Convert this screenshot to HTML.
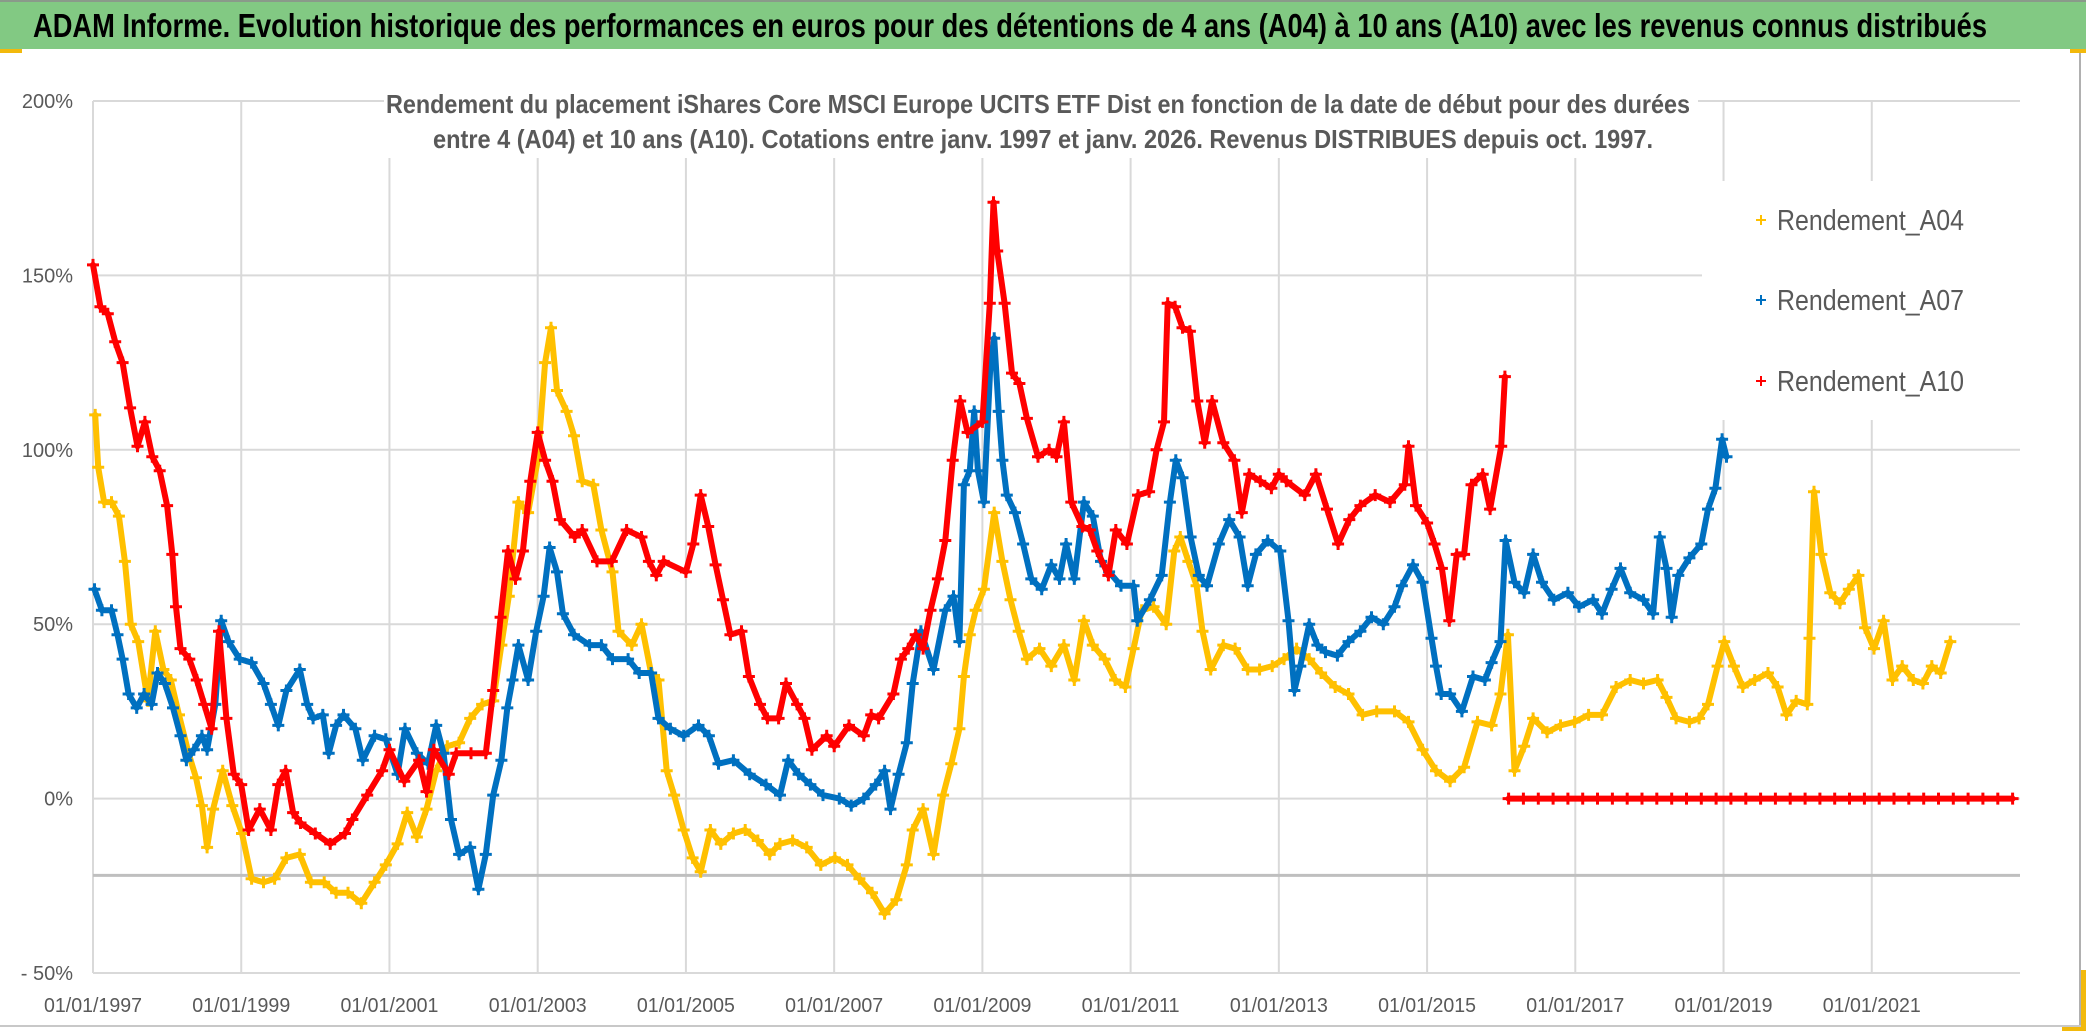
<!DOCTYPE html>
<html><head><meta charset="utf-8"><style>
html,body{margin:0;padding:0;background:#fff}
svg{display:block}
text{font-family:"Liberation Sans",sans-serif}
</style></head><body>
<svg id="chart" width="2086" height="1031" viewBox="0 0 2086 1031" xmlns="http://www.w3.org/2000/svg">
<rect x="0" y="0" width="2086" height="1031" fill="#fff"/>
<rect x="0" y="0" width="2086" height="49" fill="#82c983"/>
<rect x="0" y="0" width="2086" height="2" fill="#8a9a8a"/>
<rect x="0" y="49" width="22" height="4" fill="#f2b90c"/>
<rect x="2070" y="49" width="16" height="4" fill="#f2b90c"/>
<text x="33" y="37" font-size="33" font-weight="bold" fill="#000" textLength="1954" lengthAdjust="spacingAndGlyphs">ADAM Informe. Evolution historique des performances en euros pour des détentions de 4 ans (A04) à 10 ans (A10) avec les revenus connus distribués</text>
<rect x="2079" y="53" width="2" height="975" fill="#b0b0b0"/>
<rect x="2081" y="970" width="5" height="61" fill="#f2b90c"/>
<rect x="0" y="1025" width="2081" height="2" fill="#c8c8c8"/>
<rect x="2062" y="1027" width="24" height="4" fill="#f2b90c"/>
<g id="grid"></g>
<g id="series"></g>
<rect x="384" y="78" width="1314" height="80" fill="#fff"/>
<text x="386" y="113" font-size="26" font-weight="bold" fill="#595959" textLength="1304" lengthAdjust="spacingAndGlyphs">Rendement du placement iShares Core MSCI Europe UCITS ETF Dist en fonction de la date de début pour des durées</text>
<text x="433" y="148" font-size="26" font-weight="bold" fill="#595959" textLength="1220" lengthAdjust="spacingAndGlyphs">entre 4 (A04) et 10 ans (A10). Cotations entre janv. 1997 et janv. 2026. Revenus DISTRIBUES depuis oct. 1997.</text>
<g>
<rect x="1702" y="181" width="318" height="239" fill="#fff"/>
<g>
<path d="M1756 220h10M1761 215v10" stroke="#ffc000" stroke-width="2"/>
<text x="1777" y="230" font-size="29" fill="#595959" textLength="187" lengthAdjust="spacingAndGlyphs">Rendement_A04</text></g>
<g>
<path d="M1756 300h10M1761 295v10" stroke="#0070c0" stroke-width="2"/>
<text x="1777" y="310" font-size="29" fill="#595959" textLength="187" lengthAdjust="spacingAndGlyphs">Rendement_A07</text></g>
<g>
<path d="M1756 381h10M1761 376v10" stroke="#ff0000" stroke-width="2"/>
<text x="1777" y="391" font-size="29" fill="#595959" textLength="187" lengthAdjust="spacingAndGlyphs">Rendement_A10</text></g>
</g>
<g id="axes"></g>
</svg>
<script>
const yTicks=[200,150,100,50,0,-50];
const yTickLabels=["200%","150%","100%","50%","0%","- 50%"];
const xTickYears=[1997,1999,2001,2003,2005,2007,2009,2011,2013,2015,2017,2019,2021];
const xTickLabels=["01/01/1997","01/01/1999","01/01/2001","01/01/2003","01/01/2005","01/01/2007","01/01/2009","01/01/2011","01/01/2013","01/01/2015","01/01/2017","01/01/2019","01/01/2021"];
const crossValue=-22;

const a04Dates=[1997.03,1997.07,1997.15,1997.25,1997.35,1997.43,1997.51,1997.61,1997.74,1997.84,1997.95,1998.05,1998.16,1998.29,1998.39,1998.47,1998.54,1998.62,1998.75,1998.88,1999.01,1999.14,1999.30,1999.45,1999.61,1999.79,1999.94,2000.12,2000.28,2000.44,2000.62,2000.80,2000.95,2001.11,2001.24,2001.37,2001.50,2001.63,2001.78,2001.94,2002.09,2002.25,2002.40,2002.51,2002.61,2002.74,2002.87,2003.00,2003.10,2003.18,2003.26,2003.39,2003.49,2003.60,2003.75,2003.86,2004.01,2004.09,2004.27,2004.40,2004.53,2004.63,2004.74,2004.84,2004.97,
2005.09,2005.20,2005.33,2005.47,2005.64,2005.80,2005.97,2006.13,2006.27,2006.44,2006.63,2006.82,2007.01,2007.18,2007.34,2007.51,2007.68,2007.84,2007.98,2008.06,2008.20,2008.34,2008.47,2008.58,2008.69,2008.75,2008.83,2008.91,2009.02,2009.16,2009.27,2009.38,2009.49,2009.60,2009.77,2009.93,2010.10,2010.24,2010.37,2010.49,2010.65,2010.79,2010.93,2011.04,2011.15,2011.31,2011.48,2011.59,2011.67,2011.78,2011.89,2011.97,2012.08,2012.25,2012.41,2012.58,2012.74,2012.91,2013.07,2013.24,2013.41,
2013.57,2013.76,2013.94,2014.13,2014.32,2014.56,2014.75,2014.94,2015.12,2015.31,2015.50,2015.68,2015.87,2015.99,2016.09,2016.18,2016.31,2016.43,2016.62,2016.80,2016.99,2017.18,2017.36,2017.55,2017.74,2017.92,2018.11,2018.23,2018.36,2018.54,2018.67,2018.79,2018.92,2019.01,2019.14,2019.26,2019.42,2019.60,2019.73,2019.85,2019.98,2020.13,
2020.16,2020.22,2020.32,2020.44,2020.57,2020.69,2020.82,2020.91,2021.03,2021.16,2021.28,2021.41,2021.56,2021.69,2021.81,2021.93,2022.06];
const a04Values=[110,95,85,85,81,68,50,45,28,48,37,34,24,13,6,-2,-14,-3,8,-2,-10,-23,-24,-23,-17,-16,-24,-24,-27,-27,-30,-24,-19,-13,-4,-11,-3,8,15,16,23,27,28,44,58,85,82,97,125,135,117,111,104,91,90,77,65,48,44,50,36,34,8,1,-9,
-17,-21,-9,-13,-10,-9,-12,-16,-13,-12,-14,-19,-17,-19,-23,-27,-33,-29,-19,-9,-3,-16,1,10,20,35,47,54,60,82,68,57,48,40,43,38,44,34,51,44,40,34,32,43,54,55,50,71,75,68,61,48,37,44,43,37,37,38,40,43,40,
36,32,30,24,25,25,22,14,8,5,9,22,21,30,47,8,15,23,19,21,22,24,24,32,34,33,34,29,23,22,23,27,38,45,38,32,34,36,32,24,28,27,
46,88,70,59,56,60,64,49,43,51,34,38,34,33,38,36,45];

const a07Dates=[1997.02,1997.12,1997.25,1997.33,1997.40,1997.48,1997.59,1997.69,1997.79,1997.87,1997.97,1998.08,1998.18,1998.26,1998.36,1998.47,1998.54,1998.65,1998.73,1998.83,1998.98,1999.14,1999.30,1999.40,1999.50,1999.61,1999.79,1999.89,1999.97,2000.10,2000.18,2000.28,2000.38,2000.54,2000.64,2000.80,2000.95,2001.11,2001.21,2001.37,2001.52,2001.63,2001.73,2001.83,2001.94,2002.09,2002.20,2002.30,2002.40,2002.51,2002.59,2002.66,2002.74,2002.87,2002.98,2003.08,2003.16,2003.26,2003.34,2003.49,2003.70,2003.86,2004.01,2004.22,2004.37,2004.53,2004.63,2004.79,2004.97,
2005.17,2005.31,2005.44,2005.64,2005.86,2006.08,2006.27,2006.38,2006.52,2006.68,2006.85,2007.07,2007.23,2007.40,2007.56,2007.68,2007.76,2007.87,2007.98,2008.06,2008.17,2008.34,2008.50,2008.61,2008.69,2008.75,2008.83,2008.89,2008.94,2009.02,2009.11,2009.16,2009.22,2009.27,2009.33,2009.44,2009.55,2009.66,2009.80,2009.93,2010.04,2010.13,2010.24,2010.37,2010.49,2010.60,2010.71,2010.87,2011.04,2011.09,2011.26,2011.42,2011.53,2011.61,2011.70,2011.81,2011.92,2012.03,2012.19,2012.33,2012.47,2012.58,2012.69,2012.85,2013.02,2013.13,2013.21,2013.29,2013.41,2013.52,
2013.63,2013.79,2013.94,2014.10,2014.25,2014.41,2014.56,2014.66,2014.81,2014.94,2015.06,2015.12,2015.19,2015.31,2015.47,2015.62,2015.78,2015.87,2015.99,2016.06,2016.18,2016.31,2016.43,2016.55,2016.71,2016.90,2017.05,2017.24,2017.36,2017.49,2017.61,2017.74,2017.92,2018.05,2018.14,2018.23,2018.30,2018.39,2018.54,2018.70,2018.79,2018.89,2018.98,2019.04];
const a07Values=[60,54,54,47,40,30,26,30,27,36,33,26,18,11,14,18,14,27,51,45,40,39,33,27,21,31,37,27,23,24,13,21,24,20,11,18,17,7,20,13,10,21,13,-6,-16,-14,-26,-16,1,11,26,34,44,34,48,58,72,65,53,47,44,44,40,40,36,36,23,20,18,
21,18,10,11,7,4,1,11,7,4,1,0,-2,0,4,8,-3,7,16,33,48,37,54,58,45,90,94,111,94,85,125,132,111,97,87,82,73,63,60,67,63,73,63,85,81,68,65,61,61,51,57,64,85,97,92,75,64,61,73,80,75,61,70,74,71,51,31,38,50,44,
42,41,45,48,52,50,55,61,67,62,46,38,30,30,25,35,34,39,45,74,62,59,70,62,57,59,55,57,53,60,66,59,57,53,75,66,52,64,69,73,83,89,103,98];

const a10Dates=[1997.00,1997.10,1997.20,1997.30,1997.40,1997.50,1997.60,1997.70,1997.80,1997.90,1998.00,1998.07,1998.12,1998.18,1998.30,1998.40,1998.50,1998.60,1998.70,1998.80,1998.90,1999.00,1999.10,1999.25,1999.40,1999.50,1999.60,1999.70,1999.80,2000.00,2000.20,2000.40,2000.50,2000.70,2000.90,2001.00,2001.20,2001.40,2001.50,2001.60,2001.80,2001.90,2002.10,2002.30,2002.40,2002.50,2002.60,2002.70,2002.80,2002.90,2003.00,2003.10,2003.20,2003.30,2003.50,2003.60,2003.80,2004.00,2004.20,2004.40,2004.50,2004.60,2004.70,
2005.00,2005.10,2005.20,2005.30,2005.40,2005.50,2005.60,2005.75,2005.85,2006.00,2006.10,2006.25,2006.35,2006.50,2006.60,2006.70,2006.90,2007.00,2007.20,2007.40,2007.50,2007.60,2007.80,2007.90,2008.00,2008.10,2008.20,2008.30,2008.40,2008.50,2008.60,2008.70,2008.80,2009.00,2009.10,2009.15,2009.20,2009.30,2009.40,2009.50,2009.60,2009.75,2009.90,2010.00,2010.10,2010.20,2010.35,2010.45,2010.55,2010.70,2010.80,2010.95,2011.10,2011.25,2011.35,2011.45,2011.50,2011.60,2011.70,2011.80,2011.90,2012.00,2012.10,2012.25,2012.40,2012.50,2012.60,2012.75,2012.90,2013.00,2013.10,
2013.35,2013.50,2013.65,2013.80,2013.95,2014.10,2014.30,2014.50,2014.70,2014.75,2014.85,2015.00,2015.10,2015.20,2015.30,2015.40,2015.50,2015.60,2015.75,2015.85,2016.00,2016.05,
2016.10,2016.30,2016.50,2016.70,2016.90,2017.10,2017.30,2017.50,2017.70,2017.90,2018.10,2018.30,2018.50,2018.70,2018.90,2019.10,2019.30,2019.50,2019.70,2019.90,2020.10,2020.30,2020.50,2020.70,2020.90,2021.10,2021.30,2021.50,2021.70,2021.90,2022.10,2022.30,2022.50,2022.70,2022.90];
const a10Values=[153,141,139,131,125,112,101,108,98,94,84,70,55,43,40,34,27,20,48,23,7,4,-9,-3,-9,4,8,-4,-7,-10,-13,-10,-6,1,8,14,5,11,2,14,7,13,13,13,31,52,71,63,71,91,105,97,91,80,75,77,68,68,77,75,68,64,68,
65,73,87,78,67,57,47,48,35,27,23,23,33,27,23,14,18,15,21,18,24,23,30,40,43,47,43,54,63,74,97,114,105,108,142,171,157,142,122,119,109,98,100,98,108,85,78,77,71,64,77,73,87,88,100,108,142,141,135,134,114,102,114,102,97,82,93,91,89,93,91,
87,93,83,73,80,84,87,85,90,101,84,79,73,66,51,70,70,90,93,83,101,121,
0,0,0,0,0,0,0,0,0,0,0,0,0,0,0,0,0,0,0,0,0,0,0,0,0,0,0,0,0,0,0,0,0,0,0];

const plotLeft=93, plotRight=2020, yearStart=1997, yearEnd=2023;
const yTop=101, yBottom=973, vTop=200, vBottom=-50;
function xScale(yr){return plotLeft+(yr-yearStart)/(yearEnd-yearStart)*(plotRight-plotLeft);}
function yScale(v){return yTop+(vTop-v)/(vTop-vBottom)*(yBottom-yTop);}
const NS="http://www.w3.org/2000/svg";
function mk(tag,attrs,parent){const e=document.createElementNS(NS,tag);for(const k in attrs)e.setAttribute(k,attrs[k]);parent.appendChild(e);return e;}

const grid=document.getElementById('grid');
yTicks.forEach(v=>{
  const l=mk('line',{x1:plotLeft,x2:plotRight,y1:yScale(v),y2:yScale(v),stroke:'#d9d9d9','stroke-width':2},grid);
  
  
});
xTickYears.forEach(yr=>{
  const l=mk('line',{x1:xScale(yr),x2:xScale(yr),y1:yTop,y2:yBottom,stroke:'#d9d9d9','stroke-width':2},grid);
  
  
});
const cross=mk('line',{x1:plotLeft,x2:plotRight,y1:yScale(crossValue),y2:yScale(crossValue),stroke:'#bfbfbf','stroke-width':3},grid);



const axes=document.getElementById('axes');
yTicks.forEach((v,i)=>{
  const t=mk('text',{x:73,y:yScale(v)+7,'text-anchor':'end','font-size':20,fill:'#595959'},axes);
  t.textContent=yTickLabels[i];
  
  
});
xTickYears.forEach((yr,i)=>{
  const t=mk('text',{x:xScale(yr)-49,y:1012,'font-size':20,fill:'#595959',textLength:98,lengthAdjust:'spacingAndGlyphs'},axes);
  t.textContent=xTickLabels[i];
  
  
});

const layer=document.getElementById('series');
function drawSeries(dates,values,color,name){
  const g=mk('g',{},layer);
  
  
  let d='';
  for(let i=0;i<dates.length;i++){
    const x=xScale(dates[i]),y=yScale(values[i]);
    const gap=i===0||dates[i]-dates[i-1]>0.35||Math.abs(values[i]-values[i-1])>60;
    d+=(gap?'M':'L')+x.toFixed(1)+' '+y.toFixed(1);
  }
  const p=mk('path',{d:d,fill:'none',stroke:color,'stroke-width':6,'stroke-linejoin':'round','stroke-linecap':'round'},g);
  
  
  let m='';
  for(let i=0;i<dates.length;i++){
    const x=xScale(dates[i]),y=yScale(values[i]);
    m+='M'+(x-6).toFixed(1)+' '+y.toFixed(1)+'h12M'+x.toFixed(1)+' '+(y-6).toFixed(1)+'v12';
  }
  const mp=mk('path',{d:m,fill:'none',stroke:color,'stroke-width':3},g);
  
  
}
drawSeries(a04Dates,a04Values,'#ffc000','series-rendement-a04');
drawSeries(a07Dates,a07Values,'#0070c0','series-rendement-a07');
drawSeries(a10Dates,a10Values,'#ff0000','series-rendement-a10');
</script>
</body></html>
